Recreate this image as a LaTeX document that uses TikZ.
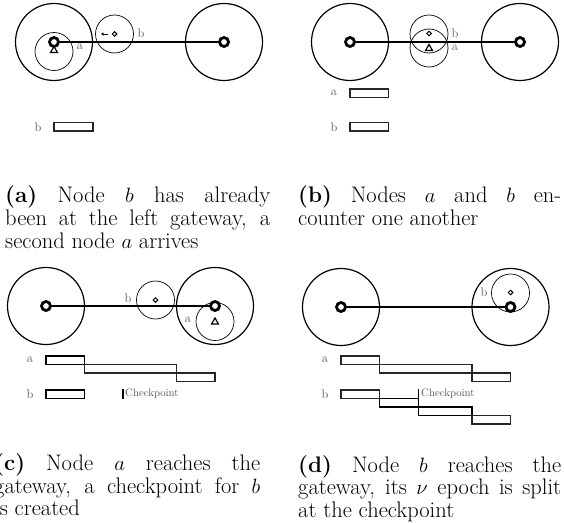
\documentclass[tikz,border=0pt]{standalone}
\usetikzlibrary{shapes.geometric,arrows.meta}
\begin{document}
\begin{tikzpicture}[x=1pt,y=-1pt,
  bigc/.style={draw, circle, line width=1.2pt, minimum size=77pt, inner sep=0pt},
  nodec/.style={draw, circle, line width=0.7pt, minimum size=38pt, inner sep=0pt},
  gw/.style={draw, circle, line width=2.8pt, minimum size=9pt, inner sep=0pt, fill=white},
  link/.style={line width=2pt},
  tri/.style={draw, regular polygon, regular polygon sides=3, line width=1.2pt, minimum size=8pt, inner sep=0pt},
  dia/.style={draw, diamond, line width=1pt, minimum size=5pt, inner sep=0pt},
  lbl/.style={text=black!65, font=\fontsize{12.5}{13}\selectfont, inner sep=0pt},
  ckl/.style={text=black!65, font=\fontsize{10.8}{12}\selectfont, inner sep=0pt, anchor=west},
  bar/.style={draw=black!85, line width=1.2pt},
  barthick/.style={draw=black, line width=1.5pt},
  ckline/.style={line width=1.3pt},
  captxt/.style={anchor=base west, inner sep=0pt, font=\fontsize{22.5}{23}\selectfont}]
\useasboundingbox (0,0) rectangle (564,522);
\clip (0,0) rectangle (564,522);

% ---------------- panel (a)
\node[bigc] (ca1) at (54,42) {};
\node[bigc] (ca2) at (224,42) {};
\node[nodec] (cna) at (54,51.5) {};
\node[nodec] (cnb) at (114.5,34) {};
\node[gw] (ga1) at (54,42) {};
\node[gw] (ga2) at (224,42) {};
\draw[link] (ga1) -- (ga2);
\node[tri] (ta) at (54,50.5) {};
\node[dia] (da) at (114.5,34) {};
\coordinate (arrS) at (108,34);
\coordinate (arrE) at (101,34);
\draw[line width=0.8pt, -{Stealth[length=3pt,width=3.2pt]}] (arrS) -- (arrE);
\node[lbl] (la) at (80,47) {a};
\node[lbl] (lb) at (141,33) {b};
\node[lbl] (lbara) at (38,127) {b};
\draw[bar] (54,122.5) rectangle (93,131);

% ---------------- panel (b)
\node[bigc] (cb1) at (350,42) {};
\node[bigc] (cb2) at (520,42) {};
\node[nodec] (cnbb) at (429,34) {};
\node[nodec] (cnba) at (429,48) {};
\node[gw] (gb1) at (350,42) {};
\node[gw] (gb2) at (520,42) {};
\draw[link] (gb1) -- (gb2);
\node[dia] (db) at (429,33.5) {};
\node[tri] (tb) at (429,48.5) {};
\node[lbl] (lbb) at (455,33) {b};
\node[lbl] (lba) at (455,48) {a};
\node[lbl] (lbarba) at (334,93) {a};
\draw[bar] (350,89) rectangle (388.5,97.5);
\node[lbl] (lbarbb) at (334,127) {b};
\draw[bar] (350,122.5) rectangle (388.5,131);

% ---------------- panel (c)
\node[bigc] (cc1) at (46,306) {};
\node[bigc] (cc2) at (215,306) {};
\node[nodec] (cncb) at (155.5,300) {};
\node[nodec] (cnca) at (215,321.5) {};
\node[gw] (gc1) at (46,306) {};
\node[gw] (gc2) at (215,306) {};
\draw[link] (gc1) -- (gc2);
\node[dia] (dc) at (155.5,300) {};
\node[tri] (tc) at (215,322) {};
\node[lbl] (lcb) at (128,298) {b};
\node[lbl] (lca) at (188,320) {a};
\node[lbl] (lbarca) at (30,360) {a};
\draw[barthick] (46,356) rectangle (84.5,364.5);
\draw[bar] (84.5,364.5) rectangle (176.5,373);
\draw[bar] (176.5,373) rectangle (215,381.5);
\node[lbl] (lbarcb) at (30,394) {b};
\draw[barthick] (46,390) rectangle (84.5,398.5);
\coordinate (ckc1) at (123,389);
\coordinate (ckc2) at (123,398.5);
\draw[ckline] (ckc1) -- (ckc2);
\node[ckl] (ckc) at (125,394) {Checkpoint};

% ---------------- panel (d)
\node[bigc] (cd1) at (341,307) {};
\node[bigc] (cd2) at (510.5,307) {};
\node[nodec] (cndb) at (510.5,293) {};
\node[gw] (gd1) at (341,307) {};
\node[gw] (gd2) at (510.5,307) {};
\draw[link] (gd1) -- (gd2);
\node[dia] (dd) at (510.5,292.5) {};
\node[lbl] (ldb) at (484,292) {b};
\node[lbl] (lbarda) at (325,360) {a};
\draw[bar] (341,356) rectangle (379.5,364.5);
\draw[bar] (379.5,364.5) rectangle (472,373);
\draw[bar] (472,373) rectangle (510.5,381.5);
\node[lbl] (lbardb) at (325,394) {b};
\draw[bar] (341,390) rectangle (379.5,398.5);
\draw[barthick] (379.5,398.5) rectangle (418.5,407);
\draw[barthick] (418.5,407) rectangle (472,415.5);
\draw[bar] (472,415.5) rectangle (510.5,424);
\coordinate (ckd1) at (418.5,389);
\coordinate (ckd2) at (418.5,415.5);
\draw[ckline] (ckd1) -- (ckd2);
\node[ckl] (ckd) at (421,394) {Checkpoint};

% ---------------- captions
\node[captxt] (capa1) at (5,202.5) {\makebox[265pt][s]{\textbf{(a)} Node $b$ has already}};
\node[captxt] (capa2) at (5,225.5) {\makebox[265pt][s]{been at the left gateway, a}};
\node[captxt] (capa3) at (5,248.5) {second node $a$ arrives};

\node[captxt] (capb1) at (298,202.5) {\makebox[263pt][s]{\textbf{(b)} Nodes $a$ and $b$ en-}};
\node[captxt] (capb2) at (298,225.5) {counter one another};

\node[captxt] (capc1) at (-6,470) {\makebox[266pt][s]{\textbf{(c)} Node $a$ reaches the}};
\node[captxt] (capc2) at (-6,493) {\makebox[266pt][s]{gateway, a checkpoint for $b$}};
\node[captxt] (capc3) at (-6,515.5) {is created};

\node[captxt] (capd1) at (298,472) {\makebox[263pt][s]{\textbf{(d)} Node $b$ reaches the}};
\node[captxt] (capd2) at (298,494.5) {\makebox[263pt][s]{gateway, its $\nu$ epoch is split}};
\node[captxt] (capd3) at (298,517) {at the checkpoint};
\end{tikzpicture}
\end{document}
